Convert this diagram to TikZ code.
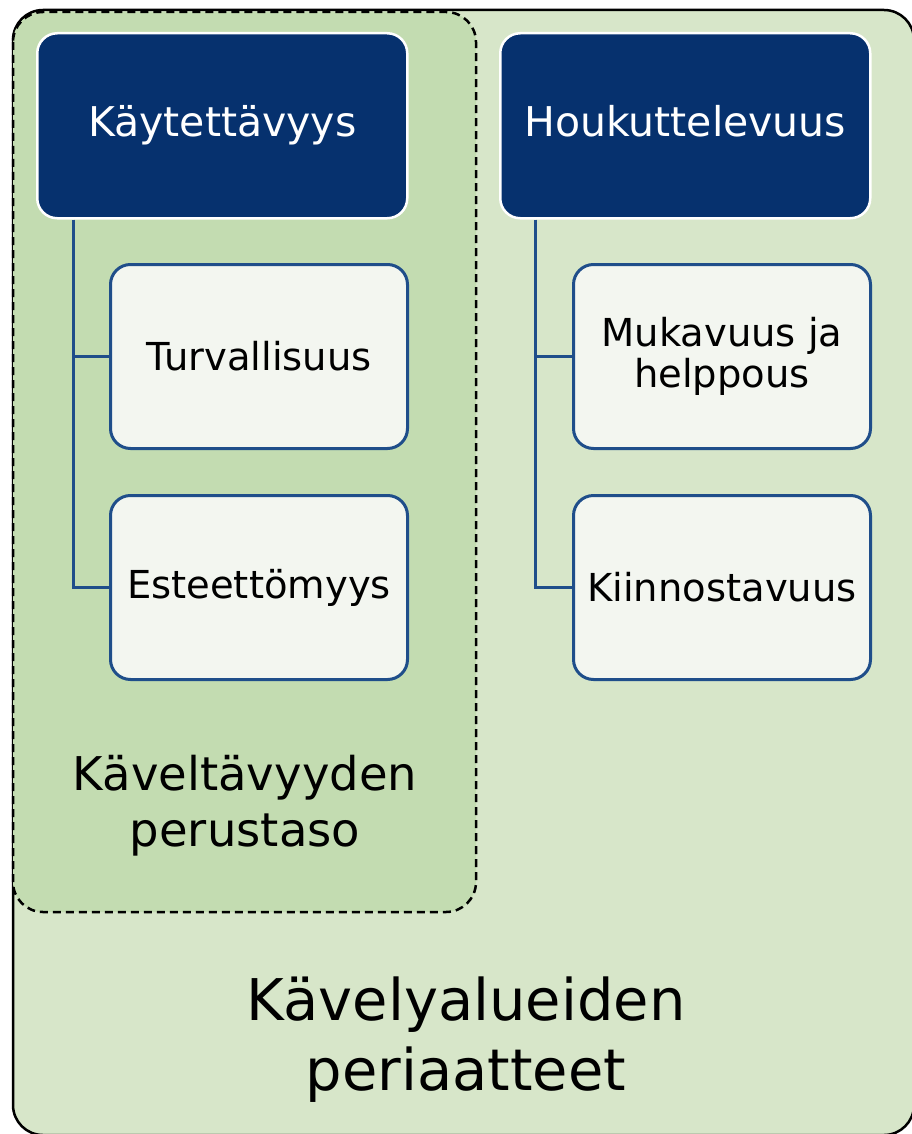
\documentclass[tikz,border=0pt]{standalone}
\usepackage{fontspec}
\setmainfont{DejaVu Sans}
\definecolor{outergreen}{HTML}{D7E6C9}
\definecolor{innergreen}{HTML}{C3DCB1}
\definecolor{navy}{HTML}{06316E}
\definecolor{childfill}{HTML}{F3F6F0}
\definecolor{childline}{HTML}{1F4E8A}
\tikzset{
  headbox/.style={draw=white, line width=2.5pt, fill=navy, rounded corners=20pt,
    minimum width=370pt, minimum height=185pt, anchor=north west, text=white,
    font=\fontsize{41}{48}\selectfont, inner sep=0pt, text height=31pt, text depth=10pt},
  childbox/.style={draw=childline, line width=3pt, fill=childfill, rounded corners=20pt,
    minimum width=297pt, minimum height=184pt, anchor=north west, text=black,
    align=center, font=\fontsize{38.5}{41}\selectfont, inner sep=0pt},
  link/.style={draw=childline, line width=3pt},
  bigtext/.style={align=center, inner sep=0pt, text=black}
}
\begin{document}
\begin{tikzpicture}[x=1pt, y=-1pt]
\useasboundingbox (0,0) rectangle (912,1134);
% outer box
\draw[fill=outergreen, draw=black, line width=2.5pt, rounded corners=30pt] (13,10) rectangle (914,1135);
% inner dashed box
\draw[fill=innergreen, draw=black, line width=2.5pt, dash pattern=on 8pt off 5pt, rounded corners=30pt] (13,12) rectangle (476,912);
% headers
\node[headbox] (kay) at (36,32) {Käytettävyys};
\node[headbox] (hou) at (499,32) {Houkuttelevuus};
% children
\node[childbox] (tur) at (109,263) {Turvallisuus};
\node[childbox] (est) at (109,494) {Esteettömyys};
\node[childbox] (muk) at (572,263) {Mukavuus ja\\helppous};
\node[childbox] (kii) at (572,494) {Kiinnostavuus};
% connectors
\coordinate (lx) at (73,0);
\coordinate (rx) at (535,0);
\draw[link] (kay.south -| lx) |- (est.west);
\draw[link] (tur.west -| lx) -- (tur.west);
\draw[link] (hou.south -| rx) |- (kii.west);
\draw[link] (muk.west -| rx) -- (muk.west);
% labels
\node[bigtext, font=\fontsize{46.5}{56}\selectfont] (perus) at (245,806) {Käveltävyyden\\perustaso};
\node[bigtext, font=\fontsize{57.5}{70}\selectfont] (peri) at (466,1040) {Kävelyalueiden\\periaatteet};
\end{tikzpicture}
\end{document}
